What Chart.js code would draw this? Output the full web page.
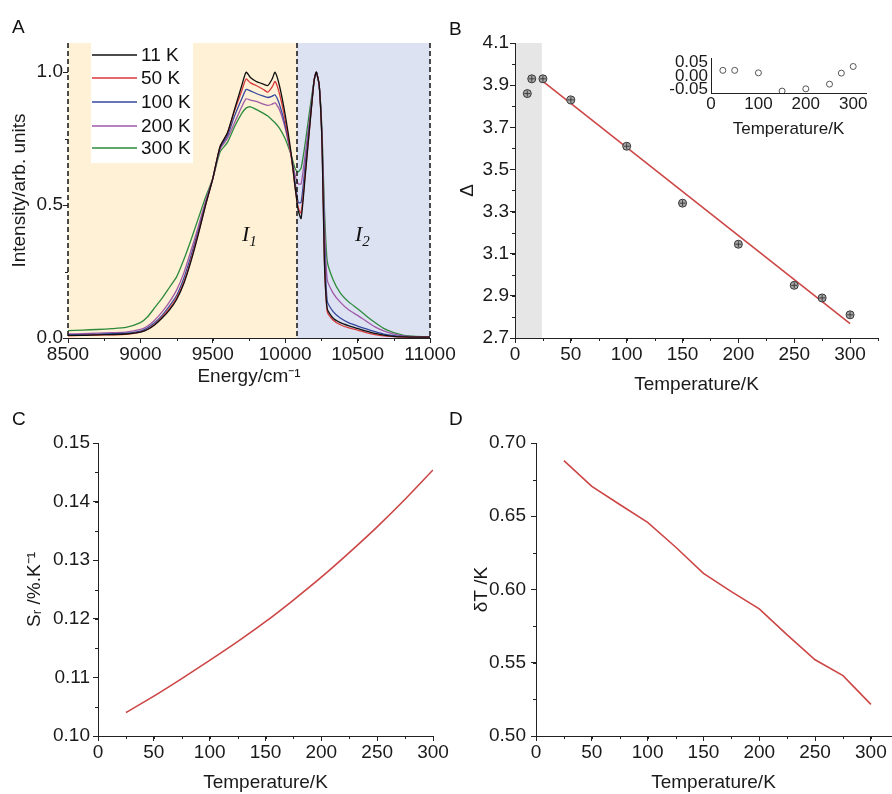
<!DOCTYPE html>
<html>
<head>
<meta charset="utf-8">
<script src="https://cdn.jsdelivr.net/npm/chart.js@4.4.1/dist/chart.umd.min.js"></script>
<style>
  body { margin: 0; background: #fff; }
  #fig { position: relative; width: 892px; height: 794px; overflow: hidden; font-family: 'Liberation Sans', Arial, sans-serif; }
  canvas { position: absolute; }
  .lbl { position: absolute; font-size: 19px; line-height: 19px; color: #111; }
  .band { position: absolute; font-family: 'Liberation Serif', 'Times New Roman', serif; font-style: italic; font-size: 22px; line-height: 22px; color: #111; }
  .band sub { font-size: 15px; vertical-align: -5px; line-height: 0; }
</style>
</head>
<body>
<div id="fig">
  <canvas id="cA" width="470" height="400" style="left:0;top:0"></canvas>
  <canvas id="cB" width="446" height="400" style="left:446px;top:0"></canvas>
  <canvas id="cIn" width="252" height="100" style="left:640px;top:45px"></canvas>
  <canvas id="cC" width="470" height="394" style="left:0;top:400px"></canvas>
  <canvas id="cD" width="446" height="394" style="left:446px;top:400px"></canvas>
  <div class="lbl" style="left:12px;top:17px">A</div>
  <div class="lbl" style="left:449px;top:19px">B</div>
  <div class="lbl" style="left:12px;top:409px">C</div>
  <div class="lbl" style="left:449px;top:409px">D</div>
  <div class="band" style="left:242px;top:223px">I<sub>1</sub></div>
  <div class="band" style="left:355px;top:223px">I<sub>2</sub></div>
</div>
<script>
// panel A: emission spectra
const energy = [8500,8600,8700,8800,8900,9000,9050,9100,9150,9200,9250,9300,9350,9400,9450,9500,9550,9600,9650,9700,9730,9760,9800,9850,9880,9910,9930,9960,10000,10040,10070,10090,10110,10140,10170,10200,10215,10235,10255,10270,10290,10330,10380,10440,10500,10560,10620,10680,10750,10820,10900,11000];
const int11K = [0.010,0.010,0.012,0.013,0.015,0.022,0.032,0.050,0.075,0.105,0.145,0.205,0.29,0.39,0.50,0.60,0.72,0.77,0.86,0.95,1.00,0.98,0.965,0.955,0.95,0.975,1.00,0.95,0.84,0.70,0.56,0.48,0.45,0.62,0.80,0.97,1.00,0.95,0.72,0.30,0.11,0.075,0.058,0.046,0.036,0.026,0.017,0.011,0.006,0.004,0.003,0.003];
const int50K = [0.008,0.010,0.011,0.012,0.014,0.022,0.033,0.052,0.078,0.11,0.15,0.21,0.295,0.395,0.50,0.60,0.72,0.77,0.855,0.93,0.975,0.96,0.95,0.935,0.925,0.945,0.965,0.92,0.82,0.69,0.56,0.49,0.47,0.63,0.80,0.97,1.00,0.95,0.72,0.31,0.10,0.068,0.05,0.038,0.03,0.02,0.013,0.008,0.005,0.003,0.003,0.003];
const int100K = [0.012,0.013,0.014,0.016,0.018,0.026,0.038,0.058,0.085,0.12,0.16,0.225,0.31,0.405,0.505,0.60,0.715,0.76,0.835,0.90,0.935,0.93,0.92,0.91,0.905,0.91,0.915,0.88,0.80,0.69,0.58,0.51,0.51,0.66,0.81,0.97,1.00,0.95,0.73,0.38,0.14,0.10,0.075,0.057,0.045,0.034,0.024,0.015,0.009,0.006,0.004,0.004];
const int200K = [0.015,0.016,0.018,0.020,0.022,0.032,0.045,0.068,0.098,0.135,0.18,0.245,0.33,0.42,0.515,0.60,0.71,0.75,0.81,0.87,0.90,0.895,0.89,0.88,0.875,0.88,0.885,0.86,0.79,0.69,0.61,0.58,0.58,0.70,0.83,0.97,1.00,0.95,0.75,0.45,0.22,0.17,0.135,0.105,0.085,0.063,0.042,0.027,0.015,0.008,0.005,0.004];
const int300K = [0.028,0.030,0.032,0.035,0.040,0.058,0.080,0.115,0.15,0.19,0.23,0.295,0.37,0.45,0.53,0.60,0.70,0.735,0.795,0.845,0.865,0.87,0.86,0.845,0.835,0.82,0.81,0.79,0.75,0.69,0.635,0.625,0.64,0.74,0.86,0.97,1.00,0.95,0.77,0.50,0.29,0.22,0.17,0.135,0.11,0.083,0.058,0.036,0.02,0.01,0.006,0.005];
const spectraLabels = ['11 K', '50 K', '100 K', '200 K', '300 K'];
const bandEdges = [8500, 10080, 11000];

// panel B: LIR vs temperature
const tempB = [11, 15, 25, 50, 100, 150, 200, 250, 275, 300];
const deltaB = [3.86, 3.93, 3.93, 3.83, 3.61, 3.34, 3.145, 2.95, 2.89, 2.81];
const fitT = [25, 300];
const fitDelta = [3.918, 2.768];
const residT = [25, 50, 100, 150, 200, 250, 275, 300];
const residVals = [0.020, 0.020, 0.011, -0.055, -0.047, -0.030, 0.010, 0.034];

// panels C and D
const tempCD = [25, 50, 75, 100, 125, 150, 175, 200, 225, 250, 275, 300];
const relSens = [0.1040, 0.1068, 0.1098, 0.1129, 0.1161, 0.1195, 0.1232, 0.1271, 0.1313, 0.1357, 0.1404, 0.1454];
const tempUnc = [0.688, 0.6704, 0.658, 0.6458, 0.629, 0.611, 0.5985, 0.5868, 0.569, 0.552, 0.5412, 0.5216];

Chart.defaults.font.family = "'Liberation Sans', Arial, sans-serif";
Chart.defaults.font.size = 19;
Chart.defaults.color = '#1a1a1a';
Chart.defaults.animation = false;
Chart.defaults.plugins.legend.display = false;
Chart.defaults.plugins.tooltip.enabled = false;

const axisColor = '#222';
const fitRed = 'rgb(205,70,70)';
const toXY = (xs, ys) => xs.map((x, i) => ({ x, y: ys[i] }));

function axis(o) {
  return {
    type: 'linear',
    min: o.min, max: o.max,
    border: { display: o.border !== false, color: axisColor, width: 1 },
    grid: { drawOnChartArea: false, color: axisColor, drawTicks: o.tick !== 0, tickLength: o.tick === undefined ? 5 : o.tick },
    ticks: { stepSize: o.step, padding: o.pad || 0, includeBounds: false, autoSkip: false, maxRotation: 0,
      font: { size: o.fs || 19 }, callback: o.fmt || (v => String(v)) },
    title: { display: !!o.title, text: o.title, padding: o.tpad, font: { size: o.fs || 19 } },
    afterFit: s => { if (s.isHorizontal()) s.height = o.size; else s.width = o.size; }
  };
}

const minorTicks = {
  id: 'minorTicks',
  afterDraw(chart, args, opts) {
    const ctx = chart.ctx;
    ctx.save();
    ctx.strokeStyle = axisColor;
    ctx.lineWidth = 1;
    for (const id of ['x', 'y']) {
      const step = opts[id];
      if (!step) continue;
      const s = chart.scales[id];
      for (let k = Math.ceil(s.min / step - 1e-9); k * step <= s.max + 1e-9; k++) {
        const p = Math.round(s.getPixelForValue(k * step)) + 0.5;
        ctx.beginPath();
        if (id === 'x') { ctx.moveTo(p, s.top); ctx.lineTo(p, s.top + 3); }
        else { ctx.moveTo(s.right, p); ctx.lineTo(s.right - 3, p); }
        ctx.stroke();
      }
    }
    ctx.restore();
  }
};

// shading, dashed borders and legend of panel A
const spectraColors = ['#111111', '#d8393b', '#34489e', '#a05aa6', '#2d8a3c'];
const bandPlugin = {
  id: 'bands',
  beforeDraw(chart) {
    const { ctx, chartArea: a, scales: { x } } = chart;
    ctx.save();
    ctx.fillStyle = 'rgb(254,241,214)';
    ctx.fillRect(x.getPixelForValue(bandEdges[0]), a.top, x.getPixelForValue(bandEdges[1]) - x.getPixelForValue(bandEdges[0]), a.bottom - a.top);
    ctx.fillStyle = 'rgb(221,226,243)';
    ctx.fillRect(x.getPixelForValue(bandEdges[1]), a.top, x.getPixelForValue(bandEdges[2]) - x.getPixelForValue(bandEdges[1]), a.bottom - a.top);
    ctx.restore();
  },
  afterDatasetsDraw(chart) {
    const { ctx, chartArea: a, scales: { x } } = chart;
    ctx.save();
    ctx.strokeStyle = '#111';
    ctx.lineWidth = 1.5;
    ctx.setLineDash([5, 3]);
    bandEdges.forEach(e => {
      const p = Math.round(x.getPixelForValue(e));
      ctx.beginPath(); ctx.moveTo(p, a.top); ctx.lineTo(p, a.bottom); ctx.stroke();
    });
    ctx.setLineDash([]);
    // legend box
    ctx.fillStyle = '#fff';
    ctx.fillRect(91, 43, 102, 120);
    const rows = [55, 78, 102, 126, 148];
    ctx.font = "19px 'Liberation Sans', Arial, sans-serif";
    ctx.textBaseline = 'middle';
    spectraLabels.forEach((t, i) => {
      ctx.strokeStyle = spectraColors[i];
      ctx.lineWidth = 1.5;
      ctx.beginPath(); ctx.moveTo(92, rows[i]); ctx.lineTo(137, rows[i]); ctx.stroke();
      ctx.fillStyle = '#111';
      ctx.fillText(t, 141, rows[i] + 1);
    });
    ctx.restore();
  }
};

const spectra = [int11K, int50K, int100K, int200K, int300K];
new Chart(document.getElementById('cA'), {
  type: 'line',
  data: {
    datasets: spectra.map((s, i) => ({
      label: spectraLabels[i], data: toXY(energy, s),
      borderColor: spectraColors[i], borderWidth: 1.3, pointRadius: 0, tension: 0.2
    }))
  },
  options: {
    responsive: false,
    layout: { padding: { top: 43, right: 40, left: 0, bottom: 0 } },
    scales: {
      x: axis({ min: 8500, max: 11000, step: 500, size: 62, title: 'Energy/cm\u207B\u00B9', tpad: { top: 0, bottom: 12 } }),
      y: axis({ min: 0, max: 1.11, step: 0.5, size: 68, border: false, fmt: v => v.toFixed(1), title: 'Intensity/arb. units', tpad: { top: 8, bottom: 0 } })
    },
    plugins: { minorTicks: { x: 250, y: 0.25 } }
  },
  plugins: [bandPlugin, minorTicks]
});

// panel B
const greyBand = {
  id: 'greyBand',
  beforeDraw(chart) {
    const { ctx, chartArea: a, scales: { x } } = chart;
    ctx.save();
    ctx.fillStyle = '#e6e6e6';
    ctx.fillRect(x.getPixelForValue(0), a.top, x.getPixelForValue(24) - x.getPixelForValue(0), a.bottom - a.top);
    ctx.restore();
  }
};
new Chart(document.getElementById('cB'), {
  type: 'line',
  data: {
    datasets: [
      { data: toXY(tempB, deltaB), showLine: false, pointStyle: 'cross', pointRadius: 3, borderColor: '#333', borderWidth: 0.9 },
      { data: toXY(tempB, deltaB), showLine: false, pointStyle: 'circle', pointRadius: 4, backgroundColor: '#a8a8a8', borderColor: '#333', borderWidth: 1 },
      { data: toXY(fitT, fitDelta), borderColor: fitRed, borderWidth: 1.6, pointRadius: 0 }
    ]
  },
  options: {
    responsive: false,
    layout: { padding: { top: 43, right: 14, left: 0, bottom: 0 } },
    scales: {
      x: axis({ min: 0, max: 325, step: 50, size: 62, title: 'Temperature/K', tpad: { top: 0, bottom: 4 } }),
      y: axis({ min: 2.7, max: 4.1, step: 0.2, size: 69, pad: 1, fmt: v => v.toFixed(1), title: '\u0394', tpad: { top: 10, bottom: 0 } })
    },
    plugins: { minorTicks: { x: 25, y: 0.1 } }
  },
  plugins: [greyBand, minorTicks]
});

// inset of panel B: fit residuals
new Chart(document.getElementById('cIn'), {
  type: 'line',
  data: {
    datasets: [
      { data: toXY(residT, residVals), showLine: false, pointStyle: 'circle', pointRadius: 3, backgroundColor: '#fff', borderColor: '#555', borderWidth: 1 }
    ]
  },
  options: {
    responsive: false,
    layout: { padding: { top: 12, right: 26, left: 0, bottom: 0 } },
    scales: {
      x: axis({ min: 0, max: 327, step: 100, size: 52, tick: 0, pad: 1, fs: 17, title: 'Temperature/K', tpad: { top: 0, bottom: 5 } }),
      y: axis({ min: -0.062, max: 0.064, step: 0.05, size: 71, tick: 0, pad: 3, fs: 17, fmt: v => v.toFixed(2) })
    }
  }
});

// panel C
new Chart(document.getElementById('cC'), {
  type: 'line',
  data: { datasets: [{ data: toXY(tempCD, relSens), borderColor: fitRed, borderWidth: 1.6, pointRadius: 0, cubicInterpolationMode: 'monotone' }] },
  options: {
    responsive: false,
    layout: { padding: { top: 43, right: 37, left: 0, bottom: 0 } },
    scales: {
      x: axis({ min: 0, max: 300, step: 50, size: 58, title: 'Temperature/K', tpad: { top: 0, bottom: 0 } }),
      y: axis({ min: 0.10, max: 0.15, step: 0.01, size: 98, pad: 3, fmt: v => v.toFixed(2), title: 'S\u1D63 /%.K\u207B\u00B9', tpad: { top: 23, bottom: 0 } })
    },
    plugins: { minorTicks: { x: 25, y: 0.005 } }
  },
  plugins: [minorTicks]
});

// panel D
new Chart(document.getElementById('cD'), {
  type: 'line',
  data: { datasets: [{ data: toXY(tempCD, tempUnc), borderColor: fitRed, borderWidth: 1.6, pointRadius: 0, tension: 0 }] },
  options: {
    responsive: false,
    layout: { padding: { top: 43, right: 1, left: 0, bottom: 0 } },
    scales: {
      x: axis({ min: 0, max: 318, step: 50, size: 58, title: 'Temperature/K', tpad: { top: 0, bottom: 0 } }),
      y: axis({ min: 0.5, max: 0.7, step: 0.05, size: 90, pad: 5, fmt: v => v.toFixed(2), title: '\u03B4T /K', tpad: { top: 24, bottom: 0 } })
    },
    plugins: { minorTicks: { x: 25, y: 0.025 } }
  },
  plugins: [minorTicks]
});
</script>
</body>
</html>
